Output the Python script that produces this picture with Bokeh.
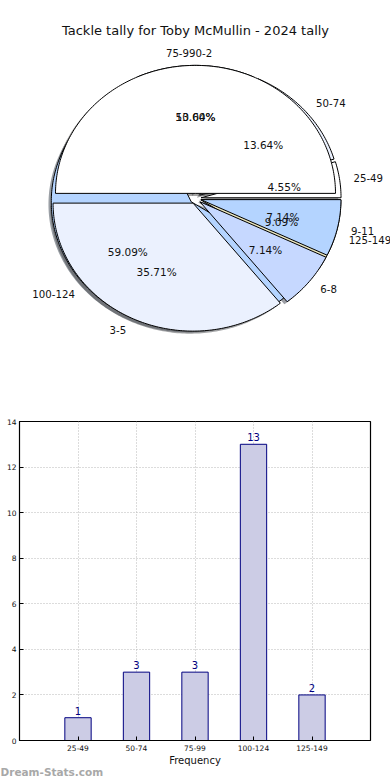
import numpy as np
from bokeh.plotting import figure
from bokeh.models import Range1d, ColumnDataSource, Label, FixedTicker, Title
from bokeh.core.properties import value
from bokeh.embed import file_html
from bokeh.resources import INLINE

# ---------------- data ----------------
title_text = "Tackle tally for Toby McMullin - 2024 tally"
tally_labels = ["25-49", "50-74", "75-99", "100-124", "125-149"]
tally_counts = [1, 3, 3, 13, 2]
game_labels = ["0-2", "3-5", "6-8", "9-11"]
game_counts = [7, 5, 1, 1]
palette = ["#ffffff", "#ebf1fe", "#c6d8ff", "#b4d4ff", "#e9e5bd"]
y_ticks = [0, 2, 4, 6, 8, 10, 12, 14]
x_title = "Frequency"
watermark = "Dream-Stats.com"

FONT = value("DejaVu Sans")

# ---------------- pie figure ----------------
RX, RY = 140.0, 128.0          # pixels per data unit (elliptical pie)
CX, CY = 195.0, 198.0          # pie centre in canvas pixels
W, H1, H2 = 390, 393, 387
p = figure(frame_width=W, frame_height=H1, output_backend="svg",
           toolbar_location=None, x_axis_type=None, y_axis_type=None,
           min_border_left=0, min_border_right=0, min_border_top=0,
           min_border_bottom=0,
           x_range=Range1d((0 - CX) / RX, (W - CX) / RX),
           y_range=Range1d((CY - H1) / RY, CY / RY))
p.grid.visible = False
p.outline_line_color = None
p.background_fill_color = "white"

EXPLODE = 0.04
SHADOW = 0.02


def shade(hexcol):
    r, g, b = (int(hexcol[i:i + 2], 16) for i in (1, 3, 5))
    return "#%02x%02x%02x" % (int(r * 0.3), int(g * 0.3), int(b * 0.3))


def pie_geometry(counts, colors, labels, tie_align):
    total = float(sum(counts))
    fr = np.array(counts, dtype=float) / total
    edges = np.concatenate([[0.0], np.cumsum(fr)]) * 2 * np.pi
    xs, ys, sxs, sys_, fills, shadows = [], [], [], [], [], []
    lx, ly, la, px, py, pt = [], [], [], [], [], []
    for i, (t1, t2) in enumerate(zip(edges[:-1], edges[1:])):
        mid = 0.5 * (t1 + t2)
        cx, cy = EXPLODE * np.cos(mid), EXPLODE * np.sin(mid)
        th = np.linspace(t1, t2, max(3, int(np.degrees(t2 - t1)) + 2))
        wx = np.concatenate([[cx], cx + np.cos(th), [cx]])
        wy = np.concatenate([[cy], cy + np.sin(th), [cy]])
        xs.append(wx)
        ys.append(wy)
        sxs.append(wx - SHADOW)
        sys_.append(wy - SHADOW)
        fills.append(colors[i])
        shadows.append(shade(colors[i]))
        xt = cx + 1.1 * np.cos(mid)
        lx.append(xt)
        ly.append(cy + 1.1 * np.sin(mid))
        if abs(xt) < 1e-6:
            la.append(tie_align)
        else:
            la.append("left" if xt > 0 else "right")
        px.append(cx + 0.6 * np.cos(mid))
        py.append(cy + 0.6 * np.sin(mid))
        pt.append("%1.2f%%" % (100 * fr[i]))
    wedges = ColumnDataSource(dict(xs=xs, ys=ys, fill=fills))
    shad = ColumnDataSource(dict(xs=sxs, ys=sys_, fill=shadows))
    labs = ColumnDataSource(dict(x=lx, y=ly, text=labels, align=la))
    pcts = ColumnDataSource(dict(x=px, y=py, text=pt))
    return wedges, shad, labs, pcts


pie1 = pie_geometry(tally_counts, palette[:5], tally_labels, "right")
pie2 = pie_geometry(game_counts, palette[:4], game_labels, "left")

# shadows first (below all wedges)
for geo in (pie1, pie2):
    p.patches("xs", "ys", source=geo[1], fill_color="fill", fill_alpha=0.5,
              line_color=None)
for geo in (pie1, pie2):
    p.patches("xs", "ys", source=geo[0], fill_color="fill",
              line_color="#000000", line_width=1)
for geo in (pie1, pie2):
    p.text("x", "y", text="text", source=geo[2], text_align="align",
           text_baseline="middle", text_font=FONT, text_font_size="10.2px",
           text_color="#111111")
    p.text("x", "y", text="text", source=geo[3], text_align="center",
           text_baseline="middle", text_font=FONT, text_font_size="10.5px",
           text_color="#111111")

p.add_layout(Label(x=0, y=(CY - 30) / RY, text=title_text, text_align="center",
                   text_baseline="middle", text_font="DejaVu Sans",
                   text_font_size="13px", text_color="#111111"))

# ---------------- bar figure ----------------
xpos = list(range(len(tally_labels)))
b = figure(frame_width=351, frame_height=319, output_backend="svg",
           toolbar_location=None, min_border_left=19, min_border_right=20,
           min_border_top=28, min_border_bottom=H2 - 28 - 319,
           x_range=Range1d(-1, 5), y_range=Range1d(0, 14))
b.background_fill_color = "white"
b.outline_line_color = "#000000"
b.outline_line_width = 1.2

src = ColumnDataSource(dict(x=xpos, top=tally_counts,
                            lab=[str(v) for v in tally_counts]))
b.vbar(x="x", top="top", width=0.45, source=src, fill_color="#ccccE5",
       line_color="#000080", line_width=1)
b.text("x", "top", text="lab", source=src, text_align="center",
       text_baseline="bottom", y_offset=-3, text_font=FONT,
       text_font_size="10px", text_color="#000080")

b.xaxis.ticker = FixedTicker(ticks=xpos)
b.xaxis.major_label_overrides = {i: lab for i, lab in enumerate(tally_labels)}
b.yaxis.ticker = FixedTicker(ticks=y_ticks)
b.xgrid.ticker = FixedTicker(ticks=xpos)
b.ygrid.ticker = FixedTicker(ticks=y_ticks)
for g in (b.xgrid, b.ygrid):
    g.grid_line_color = "#b8b8b8"
    g.grid_line_dash = "1 2"
    g.grid_line_width = 1
for ax in (b.xaxis, b.yaxis):
    ax.major_tick_in = 4
    ax.major_tick_out = 0
    ax.minor_tick_line_color = None
    ax.major_tick_line_color = "#000000"
    ax.axis_line_color = "#000000"
    ax.major_label_text_font = "DejaVu Sans"
    ax.major_label_text_font_size = "7.5px"
    ax.major_label_text_color = "#111111"
b.xaxis.major_label_standoff = 4
b.yaxis.major_label_standoff = 3
b.xaxis.axis_label = x_title
b.xaxis.axis_label_text_font = "DejaVu Sans"
b.xaxis.axis_label_text_font_size = "10px"
b.xaxis.axis_label_text_font_style = "normal"
b.xaxis.axis_label_text_color = "#111111"
b.xaxis.axis_label_standoff = 1

b.add_layout(Title(text=watermark, align="left", offset=-19, standoff=-9,
                   text_font="DejaVu Sans", text_font_size="10.5px",
                   text_font_style="bold", text_color="#a8a8a8"), "below")

# two separate roots stacked vertically (avoids frame alignment between them)
open("out.html", "w").write(file_html([p, b], INLINE))
